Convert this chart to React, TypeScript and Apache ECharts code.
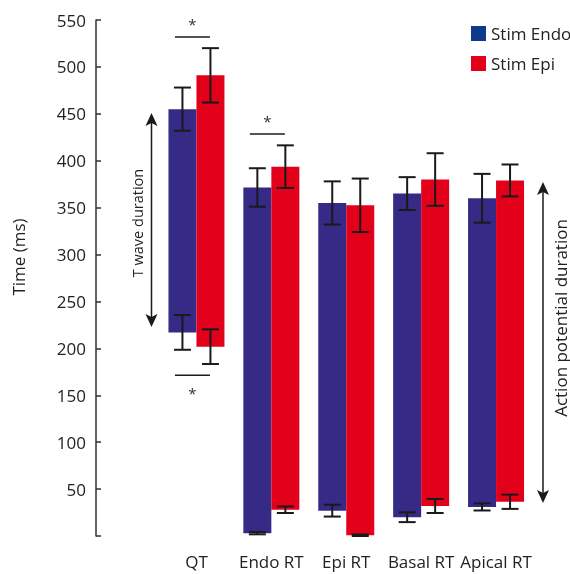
import React, { useEffect, useRef } from "react";
import * as echarts from "echarts";

const categories = ["QT", "Endo RT", "Epi RT", "Basal RT", "Apical RT"];
const endoTop = [455, 371.5, 355, 365, 360];
const endoTopErr = [23, 20.5, 23, 17.5, 26];
const endoBottom = [217, 3, 27, 20, 31];
const endoBottomErr = [18.5, 1.2, 6.3, 5.2, 3.8];
const epiTop = [491, 393.7, 352.5, 380, 379];
const epiTopErr = [29, 22.7, 28.5, 28, 17];
const epiBottom = [201.8, 28, 0.8, 32, 36.5];
const epiBottomErr = [18.5, 3.5, 0.8, 7.5, 7.6];
// significance brackets: category index, bracket value, star value
const sigCats = [0, 0, 1];
const sigLine = [532, 171.3, 428.6];
const sigStar = [549, 155.6, 445.6];
const yTicks = [0, 550, 50];

const BLUE = "#352b87";
const RED = "#e3001b";
const LEGEND_BLUE = "#0f388c";
const BAR_W = 28;
const INK = "#1a1a1a";

export default function App() {
  const ref = useRef<HTMLDivElement>(null);
  useEffect(() => {
    if (!ref.current) return;
    const chart = echarts.init(ref.current, null, { renderer: "svg" });

    const errData = (base: number[], err: number[]) =>
      base.map((v, i) => [i, v, err[i]]);

    const makeErr = (offset: number) => (params: any, api: any) => {
      const cat = api.value(0);
      const v = api.value(1);
      const e = api.value(2);
      const top = api.coord([cat, v + e]);
      const bot = api.coord([cat, v - e]);
      const x = top[0] + offset;
      const half = 8.5;
      const style = { stroke: INK, lineWidth: 2 };
      return {
        type: "group",
        children: [
          { type: "line", shape: { x1: x, y1: top[1], x2: x, y2: bot[1] }, style },
          { type: "line", shape: { x1: x - half, y1: top[1], x2: x + half, y2: top[1] }, style },
          { type: "line", shape: { x1: x - half, y1: bot[1], x2: x + half, y2: bot[1] }, style },
        ],
      };
    };

    const sigRender = (params: any, api: any) => {
      const cat = api.value(0);
      const l = api.coord([cat, api.value(1)]);
      const s = api.coord([cat, api.value(2)]);
      return {
        type: "group",
        children: [
          {
            type: "line",
            shape: { x1: l[0] - 21.5, y1: l[1], x2: l[0] + 13.5, y2: l[1] },
            style: { stroke: INK, lineWidth: 1.5 },
          },
          {
            type: "text",
            x: l[0] - 4,
            y: s[1] + 3,
            style: {
              text: "*",
              fill: "#333",
              font: "15px 'Open Sans'",
              align: "center",
              verticalAlign: "middle",
            },
          },
        ],
      };
    };

    const arrow = (x: number, y0: number, y1: number) => [
      {
        type: "line",
        shape: { x1: x, y1: y0 + 8, x2: x, y2: y1 - 8 },
        style: { stroke: INK, lineWidth: 1.5 },
      },
      {
        type: "polygon",
        shape: { points: [[x, y0], [x - 6, y0 + 13], [x, y0 + 10], [x + 6, y0 + 13]] },
        style: { fill: INK },
      },
      {
        type: "polygon",
        shape: { points: [[x, y1], [x - 6, y1 - 13], [x, y1 - 10], [x + 6, y1 - 13]] },
        style: { fill: INK },
      },
    ];

    chart.setOption({
      animation: false,
      grid: { left: 159, right: 36.5, top: 20, bottom: 38 },
      legend: {
        orient: "vertical",
        left: 466,
        top: 20,
        itemWidth: 15,
        itemHeight: 15,
        itemGap: 13,
        icon: "rect",
        textStyle: { fontSize: 17, color: "#222", fontFamily: "Open Sans" },
        data: [
          { name: "Stim Endo", itemStyle: { color: LEGEND_BLUE } },
          { name: "Stim Epi", itemStyle: { color: RED } },
        ],
        selectedMode: false,
      },
      xAxis: {
        type: "category",
        data: categories,
        axisLine: { show: false },
        axisTick: { show: false },
        axisLabel: {
          interval: 0,
          fontSize: 17,
          color: "#222",
          fontFamily: "Open Sans",
          margin: 17,
        },
      },
      yAxis: {
        type: "value",
        min: yTicks[0],
        max: yTicks[1],
        interval: yTicks[2],
        offset: 63,
        splitLine: { show: false },
        axisLine: { show: true, lineStyle: { color: "#333", width: 1.5 } },
        axisTick: { show: true, inside: true, length: 5, lineStyle: { color: "#333", width: 1.5 } },
        axisLabel: {
          fontSize: 17,
          color: "#222",
          fontFamily: "Open Sans",
          margin: 10,
          formatter: (v: number) => (v === 0 ? "" : String(v)),
        },
      },
      series: [
        {
          name: "endoBase",
          type: "bar",
          stack: "endo",
          barWidth: BAR_W,
          barGap: "0%",
          itemStyle: { color: "transparent" },
          data: endoBottom,
          silent: true,
        },
        {
          name: "Stim Endo",
          type: "bar",
          stack: "endo",
          barWidth: BAR_W,
          barGap: "0%",
          itemStyle: { color: BLUE },
          data: endoTop.map((t, i) => t - endoBottom[i]),
        },
        {
          name: "epiBase",
          type: "bar",
          stack: "epi",
          barWidth: BAR_W,
          barGap: "0%",
          itemStyle: { color: "transparent" },
          data: epiBottom,
          silent: true,
        },
        {
          name: "Stim Epi",
          type: "bar",
          stack: "epi",
          barWidth: BAR_W,
          barGap: "0%",
          itemStyle: { color: RED },
          data: epiTop.map((t, i) => t - epiBottom[i]),
        },
        {
          type: "custom",
          name: "endoErr",
          z: 5,
          silent: true,
          renderItem: makeErr(-BAR_W / 2),
          data: [...errData(endoTop, endoTopErr), ...errData(endoBottom, endoBottomErr)],
        },
        {
          type: "custom",
          name: "epiErr",
          z: 5,
          silent: true,
          renderItem: makeErr(BAR_W / 2),
          data: [...errData(epiTop, epiTopErr), ...errData(epiBottom, epiBottomErr)],
        },
        {
          type: "custom",
          name: "sig",
          z: 5,
          silent: true,
          renderItem: sigRender,
          data: sigCats.map((c, i) => [c, sigLine[i], sigStar[i]]),
        },
      ],
      graphic: [
        ...arrow(151.5, 113, 327),
        ...arrow(543, 182, 503),
        {
          type: "text",
          x: 137,
          y: 223,
          rotation: Math.PI / 2,
          style: {
            text: "T wave duration",
            font: "14.5px 'Open Sans'",
            fill: "#222",
            align: "center",
            verticalAlign: "middle",
          },
        },
        {
          type: "text",
          x: 560,
          y: 318,
          rotation: Math.PI / 2,
          style: {
            text: "Action potential duration",
            font: "17px 'Open Sans'",
            fill: "#222",
            align: "center",
            verticalAlign: "middle",
          },
        },
        {
          type: "text",
          x: 18,
          y: 257,
          rotation: Math.PI / 2,
          style: {
            text: "Time (ms)",
            font: "17px 'Open Sans'",
            fill: "#222",
            align: "center",
            verticalAlign: "middle",
          },
        },
      ],
    });
    return () => chart.dispose();
  }, []);
  return (
    <div
      ref={ref}
      style={{ position: "fixed", left: 0, top: 0, width: 570, height: 574 }}
    />
  );
}
